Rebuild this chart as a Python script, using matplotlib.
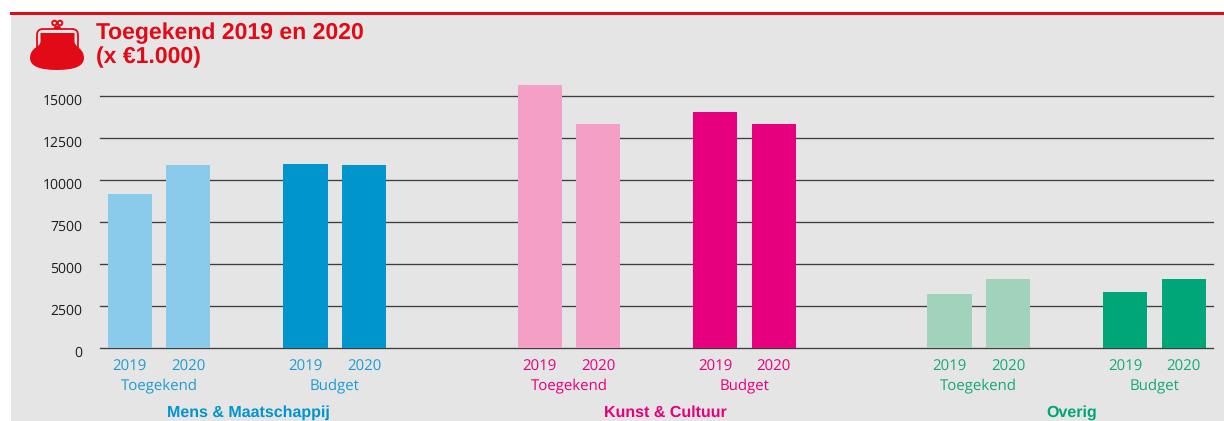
import matplotlib
matplotlib.use("Agg")
import matplotlib.pyplot as plt
from matplotlib.patches import Rectangle, PathPatch, Ellipse, Circle
from matplotlib.path import Path
from matplotlib.transforms import blended_transform_factory

groups = ["Mens & Maatschappij", "Kunst & Cultuur", "Overig"]
kinds = ["Toegekend", "Budget"]
years = ["2019", "2020"]
values = {
    "Mens & Maatschappij": {"Toegekend": [9170, 10890], "Budget": [10950, 10890]},
    "Kunst & Cultuur": {"Toegekend": [15650, 13330], "Budget": [14050, 13330]},
    "Overig": {"Toegekend": [3210, 4110], "Budget": [3330, 4110]},
}
colors = {
    "Mens & Maatschappij": {"Toegekend": "#8acbeb", "Budget": "#0095cd", "text": "#1f9bd1", "head": "#0095cd"},
    "Kunst & Cultuur": {"Toegekend": "#f4a0c6", "Budget": "#e6007e", "text": "#e6007e", "head": "#e6007e"},
    "Overig": {"Toegekend": "#a1d2bc", "Budget": "#00a678", "text": "#14a87c", "head": "#00a678"},
}
yticks = [0, 2500, 5000, 7500, 10000, 12500, 15000]
group_label_shift = [0.03, 0.15, 0.08]

W, H = 1224, 421
BG = "#e5e5e5"
RED = "#e30a17"
plt.rcParams["text.hinting"] = "no_hinting"
plt.rcParams["text.hinting_factor"] = 1
plt.rcParams["font.family"] = ["Open Sans", "DejaVu Sans"]
fig = plt.figure(figsize=(W / 100, H / 100), dpi=100, facecolor="white")

bg = fig.add_axes([0, 0, 1, 1], zorder=0)
bg.set_xlim(0, W)
bg.set_ylim(H, 0)
bg.axis("off")
bg.add_patch(Rectangle((11, 14), W - 11, H - 14, fc=BG, ec="none"))
bg.add_patch(Rectangle((10, 12), W - 10, 3, fc=RED, ec="none"))

# purse icon
body = Path(
    [(40.5, 33), (74.5, 33), (74.5, 42), (75.5, 46), (79, 48), (84, 52), (84, 58), (84, 70), (57, 70),
     (30, 70), (30, 58), (30, 52), (35, 48), (39.5, 46), (40.5, 42), (40.5, 33)],
    [Path.MOVETO, Path.LINETO, Path.LINETO, Path.CURVE3, Path.CURVE3, Path.CURVE3, Path.CURVE3,
     Path.CURVE3, Path.CURVE3, Path.CURVE3, Path.CURVE3, Path.CURVE3, Path.CURVE3, Path.CURVE3,
     Path.CURVE3, Path.LINETO],
)
bg.add_patch(PathPatch(body, fc=RED, ec="none"))
frame = Path(
    [(37, 48), (37, 35), (37, 29), (43, 29), (72, 29), (78, 29), (78, 35), (78, 48)],
    [Path.MOVETO, Path.LINETO, Path.CURVE3, Path.CURVE3, Path.LINETO, Path.CURVE3, Path.CURVE3, Path.LINETO],
)
bg.add_patch(PathPatch(frame, fc="none", ec=RED, lw=1.3))
bg.add_patch(Circle((54.5, 23), 2.3, fc="none", ec=RED, lw=1.4))
bg.add_patch(Circle((60, 23), 2.3, fc="none", ec=RED, lw=1.4))
bg.add_patch(Ellipse((57.3, 27.5), 7, 3.5, fc=RED, ec="none"))

title_font = ["Liberation Sans", "DejaVu Sans"]
bg.text(96, 33, "Toegekend 2019 en 2020", family=title_font, weight="bold", color=RED,
        fontsize=16.3, va="center", ha="left")
bg.text(96, 57.5, "(x €1.000)", family=title_font, weight="bold", color=RED,
        fontsize=16.3, va="center", ha="left")

# chart
unit = 58.55
left_px, right_px = 100, 1213
x0_px = 129.8
base_px, top_px = 348, 96
ax = fig.add_axes([left_px / W, 1 - base_px / H, (right_px - left_px) / W, (base_px - top_px) / H],
                  zorder=2, facecolor="none")
ax.set_xlim((left_px - x0_px) / unit, (right_px - x0_px) / unit)
ax.set_ylim(0, 15000)
for s in ax.spines.values():
    s.set_visible(False)
ax.set_yticks(yticks)
ax.set_yticklabels([])
ax.set_xticks([])
ax.tick_params(length=0)
ax.grid(axis="y", color="#3e3e3e", lw=0.95, zorder=1)
for line in ax.get_ygridlines():
    line.set_clip_on(False)
ax.set_axisbelow(True)

for t in yticks:
    ax.text(82.5, base_px - (base_px - top_px) * t / 15000 + 5, str(t), transform=bg.transData,
            ha="right", va="center", fontsize=10.3, color="#1d1d1b", clip_on=False)

xtrans = blended_transform_factory(ax.transData, bg.transData)
for g, group in enumerate(groups):
    for k, kind in enumerate(kinds):
        vals = values[group][kind]
        xs = [7 * g + 3 * k + i for i in range(len(years))]
        ax.bar(xs, vals, width=0.755, color=colors[group][kind], zorder=3, clip_on=False)
        for x, y in zip(xs, years):
            ax.text(x, 366.5, y, transform=xtrans, ha="center", va="center",
                    fontsize=10.5, color=colors[group]["text"], clip_on=False)
        ax.text(sum(xs) / 2, 386, kind, transform=xtrans, ha="center", va="center",
                fontsize=10.5, color=colors[group]["text"], clip_on=False)
    ax.text(7 * g + 2 + group_label_shift[g], 412.5, group, transform=xtrans, ha="center", va="center",
            family=title_font, weight="bold", fontsize=11.2, color=colors[group]["head"], clip_on=False)

fig.savefig("out.png", dpi=100, facecolor="white")
